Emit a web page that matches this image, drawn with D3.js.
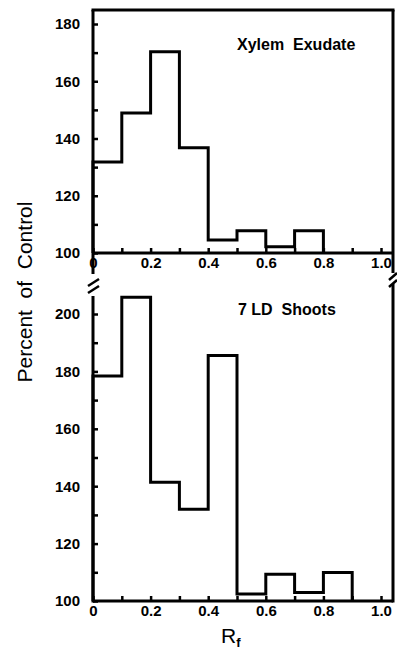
<!DOCTYPE html>
<html>
<head>
<meta charset="utf-8">
<script src="https://cdn.jsdelivr.net/npm/d3@7"></script>
<style>
  body { margin: 0; background: #fff; }
  text { font-family: "Liberation Sans", Arial, sans-serif; fill: #000; }
  .tick text { font-weight: bold; }
  .domain { display: none; }
</style>
</head>
<body>
<div id="chart"></div>
<script>
// bin edges (Rf) and percent of control per bin
var binEdges = [0, 0.1, 0.2, 0.3, 0.4, 0.5, 0.6, 0.7, 0.8, 0.9];
var xylemValues = [131.8, 148.9, 170.3, 136.8, 104.5, 107.8, 102.2, 107.8];
var shootValues = [178.4, 205.8, 141.4, 132.0, 185.5, 102.4, 109.3, 103.0, 109.9];
var xTicks = [0, 0.1, 0.2, 0.3, 0.4, 0.5, 0.6, 0.7, 0.8, 0.9, 1.0];
var yTopTicks = [100, 110, 120, 130, 140, 150, 160, 170, 180];
var yBotTicks = [100, 110, 120, 130, 140, 150, 160, 170, 180, 190, 200];

var W = 397, H = 653;
var left = 93, right = 393;

var svg = d3.select("#chart").append("svg")
  .attr("width", W)
  .attr("height", H);

var x = d3.scaleLinear().domain([0, 1]).range([93, 381]);
var yTop = d3.scaleLinear().domain([100, 180]).range([253, 24]);
var yBot = d3.scaleLinear().domain([100, 200]).range([601, 314]);

function fmtX(d) {
  if (Math.round(d * 10) % 2 != 0) return "";
  return d === 0 ? "0" : d3.format(".1f")(d);
}
function fmtY(d) {
  return d % 20 == 0 ? d : "";
}

function stepPoints(vals) {
  var pts = [[0, 100]];
  vals.forEach(function (v, i) {
    pts.push([binEdges[i], v]);
    pts.push([binEdges[i + 1], v]);
  });
  pts.push([binEdges[vals.length], 100]);
  return pts;
}

function drawPanel(y, ticks, vals, yTopPx, leftTop, rightTop, leftBot, rightBot, hasTop) {
  var base = y(100);

  // x axis (ticks point inward)
  var gx = svg.append("g")
    .attr("transform", "translate(0," + base + ")")
    .call(d3.axisBottom(x).tickValues(xTicks).tickFormat(fmtX)
      .tickSizeInner(-5).tickSizeOuter(0).tickPadding(4));
  gx.selectAll(".tick line").attr("stroke", "#000").attr("stroke-width", 2.5);
  gx.selectAll(".tick text").style("font-size", "15px");

  // y axis
  var gy = svg.append("g")
    .attr("transform", "translate(" + left + ",0)")
    .call(d3.axisLeft(y).tickValues(ticks).tickFormat(fmtY)
      .tickSizeInner(-5).tickSizeOuter(0).tickPadding(13));
  gy.selectAll(".tick line").attr("stroke", "#000").attr("stroke-width", 2.5);
  gy.selectAll(".tick text").style("font-size", "15px");

  // frame
  var frame = svg.append("g").attr("stroke", "#000").attr("stroke-width", 3).attr("fill", "none");
  frame.append("line").attr("x1", left).attr("x2", right).attr("y1", base).attr("y2", base);
  frame.append("line").attr("x1", left).attr("x2", left).attr("y1", leftTop).attr("y2", leftBot);
  frame.append("line").attr("x1", right).attr("x2", right).attr("y1", rightTop).attr("y2", rightBot);
  if (hasTop) {
    frame.append("line").attr("x1", left - 1.5).attr("x2", right + 1.5).attr("y1", yTopPx).attr("y2", yTopPx);
  }

  // histogram outline
  var line = d3.line()
    .x(function (d) { return x(d[0]); })
    .y(function (d) { return y(d[1]); });

  svg.append("path")
    .datum(stepPoints(vals))
    .attr("d", line)
    .attr("fill", "none")
    .attr("stroke", "#000")
    .attr("stroke-width", 3)
    .attr("stroke-linejoin", "miter");
}

drawPanel(yTop, yTopTicks, xylemValues, 10, 10, 10, 274, 273, true);
drawPanel(yBot, yBotTicks, shootValues, 290, 296, 284, 602.5, 602.5, false);

// axis break marks
var brk = svg.append("g").attr("stroke", "#000").attr("stroke-width", 2.5);
brk.append("line").attr("x1", 88).attr("y1", 286).attr("x2", 99).attr("y2", 279);
brk.append("line").attr("x1", 88).attr("y1", 293).attr("x2", 99).attr("y2", 286);
brk.append("line").attr("x1", 389).attr("y1", 280).attr("x2", 397).attr("y2", 273);
brk.append("line").attr("x1", 389).attr("y1", 287).attr("x2", 397).attr("y2", 280);

// panel titles
svg.append("text")
  .attr("x", 237).attr("y", 50)
  .style("font-size", "16px").style("font-weight", "bold")
  .attr("xml:space", "preserve")
  .text("Xylem  Exudate");

svg.append("text")
  .attr("x", 238).attr("y", 315)
  .style("font-size", "16px").style("font-weight", "bold")
  .attr("xml:space", "preserve")
  .text("7 LD  Shoots");

// axis titles
svg.append("text")
  .attr("transform", "translate(32,292) rotate(-90)")
  .style("text-anchor", "middle")
  .style("font-size", "21px")
  .attr("xml:space", "preserve")
  .text("Percent  of  Control");

var rf = svg.append("text")
  .attr("x", 221).attr("y", 643)
  .style("font-size", "21px");
rf.append("tspan").text("R");
rf.append("tspan").attr("dy", 4).style("font-size", "13px").style("font-weight", "bold").text("f");
</script>
</body>
</html>
